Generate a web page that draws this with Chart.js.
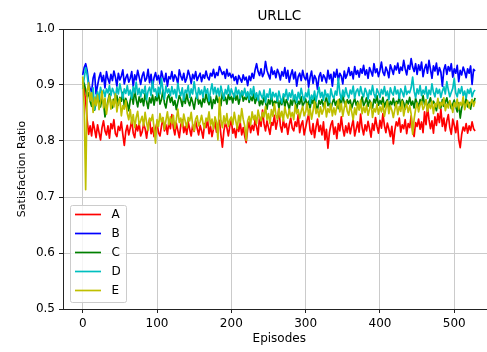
<!DOCTYPE html>
<html>
<head>
<meta charset="utf-8">
<script src="https://cdn.jsdelivr.net/npm/chart.js@4/dist/chart.umd.min.js"></script>
<style>
    html, body { margin: 0; padding: 0; overflow: hidden; background: #fff; }
    canvas { display: block; }
</style>
</head>
<body>
<canvas id="chart" width="500" height="352"></canvas>
<script>
const episodes = [
    0, 2, 4, 6, 8, 10, 12, 14, 16, 18, 20, 22, 24, 26, 28, 30, 32, 34, 36, 38,
    40, 42, 44, 46, 48, 50, 52, 54, 56, 58, 60, 62, 64, 66, 68, 70, 72, 74, 76, 78,
    80, 82, 84, 86, 88, 90, 92, 94, 96, 98, 100, 102, 104, 106, 108, 110, 112, 114, 116, 118,
    120, 122, 124, 126, 128, 130, 132, 134, 136, 138, 140, 142, 144, 146, 148, 150, 152, 154, 156, 158,
    160, 162, 164, 166, 168, 170, 172, 174, 176, 178, 180, 182, 184, 186, 188, 190, 192, 194, 196, 198,
    200, 202, 204, 206, 208, 210, 212, 214, 216, 218, 220, 222, 224, 226, 228, 230, 232, 234, 236, 238,
    240, 242, 244, 246, 248, 250, 252, 254, 256, 258, 260, 262, 264, 266, 268, 270, 272, 274, 276, 278,
    280, 282, 284, 286, 288, 290, 292, 294, 296, 298, 300, 302, 304, 306, 308, 310, 312, 314, 316, 318,
    320, 322, 324, 326, 328, 330, 332, 334, 336, 338, 340, 342, 344, 346, 348, 350, 352, 354, 356, 358,
    360, 362, 364, 366, 368, 370, 372, 374, 376, 378, 380, 382, 384, 386, 388, 390, 392, 394, 396, 398,
    400, 402, 404, 406, 408, 410, 412, 414, 416, 418, 420, 422, 424, 426, 428, 430, 432, 434, 436, 438,
    440, 442, 444, 446, 448, 450, 452, 454, 456, 458, 460, 462, 464, 466, 468, 470, 472, 474, 476, 478,
    480, 482, 484, 486, 488, 490, 492, 494, 496, 498, 500, 502, 504, 506, 508, 510, 512, 514, 516, 518,
    520, 522, 524, 526, 528
];

const seriesA = [
    0.905, 0.893, 0.871, 0.838, 0.812, 0.827, 0.809, 0.834, 0.821, 0.806,
    0.829, 0.815, 0.802, 0.824, 0.836, 0.818, 0.811, 0.827, 0.805, 0.831,
    0.822, 0.838, 0.813, 0.808, 0.826, 0.819, 0.834, 0.812, 0.792, 0.817,
    0.828, 0.811, 0.823, 0.837, 0.814, 0.806, 0.829, 0.818, 0.832, 0.809,
    0.816, 0.831, 0.822, 0.805, 0.827, 0.839, 0.813, 0.824, 0.808, 0.821,
    0.833, 0.815, 0.809, 0.826, 0.841, 0.818, 0.829, 0.812, 0.835, 0.822,
    0.847, 0.824, 0.811, 0.832, 0.819, 0.806, 0.828, 0.838, 0.815, 0.826,
    0.812, 0.834, 0.821, 0.809, 0.829, 0.817, 0.836, 0.823, 0.811, 0.828,
    0.818, 0.805, 0.831, 0.824, 0.839, 0.813, 0.826, 0.808, 0.822, 0.835,
    0.816, 0.829, 0.837, 0.811, 0.789, 0.818, 0.832, 0.824, 0.809, 0.827,
    0.838, 0.814, 0.822, 0.806, 0.829, 0.817, 0.833, 0.811, 0.824, 0.809,
    0.797, 0.821, 0.834, 0.815, 0.828, 0.819, 0.838, 0.825, 0.811, 0.843,
    0.826, 0.855, 0.831, 0.818, 0.836, 0.824, 0.812, 0.833, 0.828, 0.846,
    0.821, 0.835, 0.859, 0.827, 0.816, 0.838, 0.824, 0.831, 0.812, 0.829,
    0.841, 0.823, 0.818, 0.834, 0.826, 0.847, 0.815, 0.829, 0.836, 0.811,
    0.824, 0.837, 0.848, 0.819, 0.812, 0.831, 0.806, 0.825, 0.839, 0.817,
    0.828, 0.811, 0.834, 0.802, 0.821, 0.787, 0.815, 0.829, 0.836, 0.812,
    0.825, 0.804, 0.831, 0.818, 0.843, 0.822, 0.809, 0.827, 0.815, 0.832,
    0.813, 0.826, 0.838, 0.809, 0.821, 0.834, 0.816, 0.848, 0.824, 0.811,
    0.829, 0.818, 0.835, 0.822, 0.807, 0.831, 0.819, 0.842, 0.826, 0.814,
    0.837, 0.823, 0.849, 0.828, 0.815, 0.832, 0.821, 0.808, 0.826, 0.795,
    0.819, 0.834, 0.827, 0.841, 0.816, 0.829, 0.822, 0.838, 0.813, 0.831,
    0.824, 0.845, 0.818, 0.808, 0.833, 0.826, 0.839, 0.821, 0.834, 0.815,
    0.852, 0.829, 0.861, 0.838, 0.822, 0.836, 0.814, 0.843, 0.828, 0.849,
    0.833, 0.857, 0.826, 0.841, 0.818, 0.836, 0.847, 0.824, 0.812, 0.839,
    0.828, 0.815, 0.836, 0.803, 0.788, 0.812, 0.825, 0.818, 0.831, 0.814,
    0.827, 0.819, 0.834, 0.822, 0.818
];

const seriesB = [
    0.918, 0.931, 0.938, 0.926, 0.904, 0.893, 0.887, 0.912, 0.921, 0.884,
    0.899, 0.913, 0.922, 0.906, 0.917, 0.895, 0.924, 0.911, 0.903, 0.919,
    0.908, 0.925, 0.914, 0.898, 0.921, 0.909, 0.916, 0.927, 0.902, 0.913,
    0.919, 0.905, 0.912, 0.924, 0.897, 0.918, 0.909, 0.926, 0.914, 0.901,
    0.916, 0.923, 0.907, 0.912, 0.928, 0.904, 0.919, 0.896, 0.913, 0.922,
    0.909, 0.917, 0.902, 0.925, 0.914, 0.906, 0.921, 0.898, 0.915, 0.911,
    0.924, 0.907, 0.918, 0.913, 0.902, 0.927, 0.916, 0.909, 0.921, 0.905,
    0.912, 0.926, 0.917, 0.903, 0.919, 0.911, 0.924, 0.908, 0.915, 0.921,
    0.906, 0.918, 0.912, 0.925, 0.914, 0.909, 0.921, 0.916, 0.928, 0.913,
    0.922, 0.917, 0.933, 0.926, 0.919, 0.924, 0.912, 0.928, 0.916, 0.921,
    0.913, 0.919, 0.908, 0.915, 0.902, 0.917, 0.911, 0.905, 0.918, 0.909,
    0.914, 0.899, 0.916, 0.908, 0.921, 0.912, 0.927, 0.938, 0.924, 0.917,
    0.929, 0.915, 0.921, 0.942, 0.926, 0.918, 0.911, 0.932, 0.919, 0.925,
    0.913, 0.928, 0.921, 0.909, 0.924, 0.916, 0.931, 0.912, 0.926, 0.905,
    0.918, 0.927, 0.911, 0.923, 0.898, 0.915, 0.921, 0.908, 0.926, 0.914,
    0.909, 0.921, 0.896, 0.914, 0.925, 0.903, 0.917, 0.911, 0.892, 0.915,
    0.922, 0.907, 0.918, 0.913, 0.904, 0.926, 0.911, 0.919, 0.898, 0.923,
    0.914, 0.928, 0.908, 0.921, 0.916, 0.902, 0.925, 0.912, 0.919, 0.931,
    0.917, 0.924, 0.911, 0.933, 0.919, 0.926, 0.914, 0.929, 0.921, 0.935,
    0.918, 0.927, 0.912, 0.931, 0.924, 0.916, 0.938, 0.922, 0.929, 0.915,
    0.926, 0.941, 0.923, 0.917, 0.932, 0.925, 0.913, 0.936, 0.928, 0.919,
    0.934, 0.927, 0.939, 0.921, 0.932, 0.926, 0.944, 0.929, 0.918, 0.935,
    0.928, 0.947, 0.932, 0.924, 0.938, 0.919, 0.936, 0.926, 0.941, 0.915,
    0.929, 0.937, 0.921, 0.944, 0.928, 0.912, 0.934, 0.925, 0.939, 0.918,
    0.931, 0.923, 0.898, 0.927, 0.936, 0.919, 0.933, 0.925, 0.938, 0.914,
    0.929, 0.921, 0.935, 0.906, 0.926, 0.918, 0.932, 0.924, 0.913, 0.929,
    0.921, 0.934, 0.901, 0.928, 0.925
];

const seriesC = [
    0.908, 0.903, 0.891, 0.879, 0.886, 0.871, 0.862, 0.878, 0.855, 0.869,
    0.882, 0.874, 0.861, 0.877, 0.868, 0.843, 0.856, 0.872, 0.884, 0.866,
    0.859, 0.875, 0.869, 0.881, 0.864, 0.878, 0.871, 0.887, 0.862, 0.876,
    0.868, 0.854, 0.873, 0.882, 0.866, 0.891, 0.874, 0.861, 0.879, 0.869,
    0.876, 0.863, 0.885, 0.871, 0.858, 0.877, 0.868, 0.882, 0.864, 0.879,
    0.872, 0.886, 0.866, 0.874, 0.891, 0.868, 0.859, 0.877, 0.883, 0.869,
    0.878, 0.864, 0.872, 0.856, 0.869, 0.881, 0.874, 0.862, 0.879, 0.867,
    0.884, 0.871, 0.863, 0.878, 0.869, 0.857, 0.875, 0.882, 0.866, 0.873,
    0.861, 0.876, 0.869, 0.884, 0.872, 0.865, 0.879, 0.858, 0.874, 0.867,
    0.881, 0.869, 0.876, 0.863, 0.887, 0.872, 0.878, 0.866, 0.883, 0.874,
    0.879, 0.868, 0.885, 0.873, 0.881, 0.866, 0.877, 0.889, 0.871, 0.878,
    0.874, 0.886, 0.869, 0.879, 0.872, 0.884, 0.867, 0.876, 0.881, 0.863,
    0.872, 0.865, 0.878, 0.869, 0.857, 0.874, 0.866, 0.881, 0.863, 0.871,
    0.868, 0.876, 0.859, 0.872, 0.865, 0.879, 0.861, 0.874, 0.867, 0.856,
    0.873, 0.864, 0.878, 0.869, 0.857, 0.871, 0.866, 0.879, 0.862, 0.868,
    0.875, 0.863, 0.871, 0.858, 0.874, 0.867, 0.879, 0.864, 0.856, 0.872,
    0.866, 0.874, 0.861, 0.869, 0.878, 0.863, 0.872, 0.857, 0.868, 0.876,
    0.864, 0.871, 0.858, 0.875, 0.866, 0.881, 0.869, 0.862, 0.874, 0.867,
    0.873, 0.859, 0.868, 0.876, 0.864, 0.871, 0.857, 0.866, 0.879, 0.863,
    0.869, 0.877, 0.862, 0.873, 0.866, 0.859, 0.875, 0.868, 0.881, 0.864,
    0.872, 0.866, 0.878, 0.861, 0.869, 0.874, 0.858, 0.871, 0.865, 0.876,
    0.863, 0.871, 0.867, 0.879, 0.862, 0.874, 0.868, 0.857, 0.872, 0.866,
    0.878, 0.864, 0.871, 0.859, 0.876, 0.868, 0.862, 0.874, 0.867, 0.881,
    0.865, 0.873, 0.858, 0.869, 0.877, 0.863, 0.871, 0.866, 0.854, 0.872,
    0.867, 0.859, 0.874, 0.862, 0.869, 0.877, 0.864, 0.871, 0.858, 0.866,
    0.873, 0.861, 0.852, 0.868, 0.841, 0.859, 0.872, 0.864, 0.876, 0.861,
    0.869, 0.857, 0.874, 0.866, 0.877
];

const seriesD = [
    0.893, 0.912, 0.931, 0.918, 0.897, 0.884, 0.872, 0.895, 0.856, 0.879,
    0.888, 0.874, 0.896, 0.883, 0.891, 0.879, 0.893, 0.886, 0.899, 0.881,
    0.894, 0.887, 0.878, 0.896, 0.884, 0.902, 0.889, 0.876, 0.893, 0.885,
    0.899, 0.882, 0.891, 0.876, 0.897, 0.886, 0.905, 0.883, 0.894, 0.879,
    0.892, 0.885, 0.898, 0.874, 0.889, 0.896, 0.881, 0.907, 0.888, 0.893,
    0.879, 0.896, 0.884, 0.912, 0.891, 0.875, 0.898, 0.886, 0.893, 0.881,
    0.897, 0.884, 0.892, 0.877, 0.903, 0.889, 0.881, 0.895, 0.873, 0.891,
    0.886, 0.899, 0.878, 0.893, 0.884, 0.906, 0.889, 0.876, 0.895, 0.883,
    0.891, 0.878, 0.897, 0.885, 0.893, 0.871, 0.889, 0.902, 0.884, 0.896,
    0.883, 0.894, 0.879, 0.898, 0.886, 0.875, 0.892, 0.884, 0.899, 0.881,
    0.893, 0.885, 0.878, 0.896, 0.883, 0.891, 0.876, 0.889, 0.882, 0.894,
    0.879, 0.888, 0.874, 0.893, 0.881, 0.897, 0.877, 0.886, 0.872, 0.889,
    0.882, 0.876, 0.891, 0.869, 0.884, 0.878, 0.893, 0.874, 0.887, 0.879,
    0.885, 0.871, 0.889, 0.877, 0.868, 0.884, 0.879, 0.892, 0.873, 0.886,
    0.878, 0.891, 0.874, 0.883, 0.869, 0.887, 0.876, 0.894, 0.881, 0.872,
    0.886, 0.879, 0.893, 0.867, 0.882, 0.875, 0.889, 0.871, 0.884, 0.896,
    0.878, 0.887, 0.873, 0.891, 0.879, 0.884, 0.869, 0.893, 0.881, 0.876,
    0.889, 0.882, 0.912, 0.886, 0.874, 0.891, 0.879, 0.895, 0.883, 0.877,
    0.891, 0.884, 0.898, 0.876, 0.889, 0.893, 0.881, 0.897, 0.885, 0.879,
    0.894, 0.887, 0.875, 0.891, 0.883, 0.899, 0.884, 0.877, 0.893, 0.886,
    0.878, 0.892, 0.884, 0.897, 0.881, 0.889, 0.874, 0.895, 0.886, 0.882,
    0.897, 0.884, 0.891, 0.876, 0.893, 0.887, 0.879, 0.898, 0.883, 0.889,
    0.886, 0.895, 0.914, 0.889, 0.877, 0.893, 0.884, 0.899, 0.881, 0.891,
    0.884, 0.897, 0.876, 0.891, 0.883, 0.902, 0.887, 0.879, 0.894, 0.885,
    0.892, 0.878, 0.889, 0.897, 0.884, 0.906, 0.891, 0.879, 0.887, 0.894,
    0.912, 0.886, 0.879, 0.893, 0.885, 0.897, 0.881, 0.889, 0.876, 0.892,
    0.885, 0.894, 0.879, 0.888, 0.891
];

const seriesE = [
    0.915, 0.862, 0.713, 0.889, 0.904, 0.872, 0.886, 0.851, 0.878, 0.863,
    0.882, 0.856, 0.871, 0.889, 0.859, 0.876, 0.848, 0.868, 0.881, 0.857,
    0.874, 0.861, 0.884, 0.852, 0.869, 0.876, 0.845, 0.863, 0.857, 0.872,
    0.849, 0.838, 0.856, 0.831, 0.847, 0.824, 0.842, 0.853, 0.829, 0.836,
    0.844, 0.827, 0.851, 0.833, 0.819, 0.841, 0.836, 0.847, 0.824, 0.796,
    0.838, 0.826, 0.849, 0.834, 0.842, 0.821, 0.837, 0.852, 0.829, 0.843,
    0.831, 0.846, 0.822, 0.838, 0.857, 0.833, 0.841, 0.826, 0.848, 0.835,
    0.824, 0.842, 0.836, 0.851, 0.829, 0.818, 0.839, 0.845, 0.827, 0.834,
    0.846, 0.831, 0.823, 0.841, 0.836, 0.852, 0.828, 0.839, 0.821, 0.843,
    0.834, 0.802, 0.878, 0.837, 0.824, 0.845, 0.831, 0.849, 0.826, 0.838,
    0.843, 0.829, 0.851, 0.836, 0.822, 0.846, 0.833, 0.858, 0.839, 0.827,
    0.801, 0.836, 0.844, 0.829, 0.852, 0.838, 0.846, 0.831, 0.855, 0.842,
    0.836, 0.851, 0.843, 0.862, 0.838, 0.849, 0.831, 0.856, 0.844, 0.867,
    0.847, 0.839, 0.858, 0.842, 0.853, 0.836, 0.861, 0.848, 0.841, 0.857,
    0.843, 0.851, 0.838, 0.864, 0.849, 0.856, 0.841, 0.853, 0.862, 0.845,
    0.852, 0.867, 0.846, 0.858, 0.839, 0.854, 0.871, 0.849, 0.857, 0.843,
    0.861, 0.848, 0.856, 0.869, 0.843, 0.858, 0.851, 0.866, 0.845, 0.859,
    0.847, 0.862, 0.874, 0.852, 0.867, 0.844, 0.859, 0.871, 0.853, 0.846,
    0.865, 0.852, 0.838, 0.859, 0.847, 0.868, 0.855, 0.873, 0.849, 0.861,
    0.851, 0.864, 0.846, 0.857, 0.869, 0.842, 0.858, 0.852, 0.866, 0.848,
    0.861, 0.852, 0.867, 0.844, 0.858, 0.871, 0.849, 0.863, 0.855, 0.842,
    0.856, 0.868, 0.847, 0.862, 0.853, 0.871, 0.845, 0.859, 0.866, 0.851,
    0.863, 0.848, 0.812, 0.839, 0.857, 0.868, 0.852, 0.864, 0.871, 0.856,
    0.862, 0.874, 0.853, 0.866, 0.858, 0.871, 0.849, 0.867, 0.861, 0.876,
    0.858, 0.869, 0.863, 0.877, 0.854, 0.866, 0.859, 0.872, 0.864, 0.851,
    0.868, 0.861, 0.875, 0.857, 0.869, 0.863, 0.879, 0.856, 0.866, 0.872,
    0.859, 0.868, 0.874, 0.862, 0.871
];

const seriesNames = ['A', 'B', 'C', 'D', 'E'];
const seriesColors = ['#ff0000', '#0000ff', '#008000', '#00bfbf', '#bfbf00'];
const xTicks = [0, 100, 200, 300, 400, 500];
const yTicks = [0.5, 0.6, 0.7, 0.8, 0.9, 1.0];

const FONT = 'DejaVu Sans';

const toPoints = (values) => values.map((v, i) => ({ x: episodes[i], y: v }));

const allSeries = [seriesA, seriesB, seriesC, seriesD, seriesE];

// later series are drawn on top, as in the original plot
const datasets = allSeries.map((values, i) => ({
    label: seriesNames[i],
    data: toPoints(values),
    borderColor: seriesColors[i],
    backgroundColor: seriesColors[i],
    borderWidth: 1.7,
    borderJoinStyle: 'round',
    pointRadius: 0,
    tension: 0,
    fill: false,
    order: allSeries.length - i,
}));

// top spine and the legend box in the lower left of the plot
const framePlugin = {
    id: 'frame',
    afterDraw(chart) {
        const { ctx, chartArea } = chart;
        ctx.save();
        ctx.strokeStyle = '#222';
        ctx.lineWidth = 1;
        ctx.beginPath();
        ctx.moveTo(chartArea.left, chartArea.top + 0.5);
        ctx.lineTo(chartArea.right, chartArea.top + 0.5);
        ctx.moveTo(chartArea.right - 0.5, chartArea.top);
        ctx.lineTo(chartArea.right - 0.5, chartArea.bottom);
        ctx.stroke();

        const bx = 70.5, by = 205.5, bw = 56, bh = 97;
        ctx.fillStyle = 'rgba(255,255,255,0.8)';
        ctx.strokeStyle = '#cccccc';
        ctx.beginPath();
        ctx.roundRect(bx, by, bw, bh, 2);
        ctx.fill();
        ctx.stroke();

        ctx.font = `12px "${FONT}"`;
        ctx.textBaseline = 'middle';
        ctx.textAlign = 'left';
        seriesNames.forEach((name, i) => {
            const y = 214.5 + i * 19;
            ctx.strokeStyle = seriesColors[i];
            ctx.lineWidth = 1.7;
            ctx.beginPath();
            ctx.moveTo(75, y);
            ctx.lineTo(101, y);
            ctx.stroke();
            ctx.fillStyle = '#000';
            ctx.fillText(name, 111.5, y + 0.5);
        });
        ctx.restore();
    }
};

new Chart(document.getElementById('chart'), {
    type: 'line',
    data: { datasets },
    plugins: [framePlugin],
    options: {
        responsive: false,
        animation: false,
        devicePixelRatio: 1,
        layout: { padding: { left: 0, right: 4.5, top: 0, bottom: 0 } },
        plugins: {
            legend: { display: false },
            tooltip: { enabled: false },
            title: {
                display: true,
                fullSize: false,
                text: 'URLLC',
                color: '#000',
                font: { family: FONT, size: 13.5, weight: 'normal' },
                padding: { top: 7.9, bottom: 4.9 },
            },
        },
        scales: {
            x: {
                type: 'linear',
                min: -26.5,
                max: 555.5,
                afterBuildTicks: (scale) => { scale.ticks = xTicks.map(v => ({ value: v })); },
                afterFit: (scale) => { scale.height = 43; },
                ticks: {
                    color: '#000',
                    font: { family: FONT, size: 12 },
                    padding: 3.3,
                    maxRotation: 0,
                    callback: (v) => String(v),
                },
                grid: { color: '#cbcbcb', lineWidth: 1, tickColor: '#222', tickLength: 4 },
                border: { display: true, color: '#222', width: 1 },
                title: {
                    display: true,
                    text: 'Episodes',
                    color: '#000',
                    font: { family: FONT, size: 12 },
                    padding: { top: 0, bottom: 6.3 },
                },
            },
            y: {
                min: 0.5,
                max: 1.0,
                afterBuildTicks: (scale) => { scale.ticks = yTicks.map(v => ({ value: v })); },
                afterFit: (scale) => { scale.width = 63; },
                ticks: {
                    color: '#000',
                    font: { family: FONT, size: 12 },
                    padding: 4,
                    callback: (v) => Number(v).toFixed(1),
                },
                grid: { color: '#cbcbcb', lineWidth: 1, tickColor: '#222', tickLength: 4 },
                border: { display: true, color: '#222', width: 1 },
                title: {
                    display: true,
                    text: 'Satisfaction Ratio',
                    color: '#000',
                    font: { family: FONT, size: 11 },
                    padding: { top: 15.4, bottom: 0 },
                },
            },
        },
    },
});
</script>
</body>
</html>
